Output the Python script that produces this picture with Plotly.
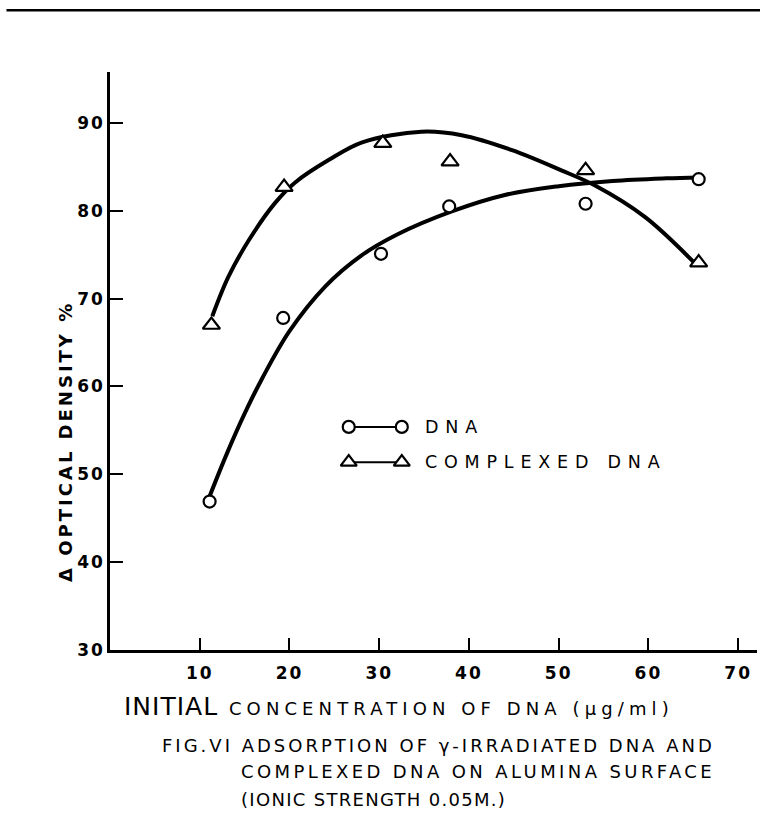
import plotly.graph_objects as go

# ---- data ----
dna_x = [11.1, 19.3, 30.2, 37.8, 53.0, 65.6]
dna_y = [46.9, 67.8, 75.1, 80.5, 80.8, 83.6]
cplx_x = [11.3, 19.4, 30.4, 37.9, 53.0, 65.6]
cplx_y = [67.0, 82.7, 87.7, 85.6, 84.6, 74.1]

# hand-drawn fitted curves
dna_curve_x = [11.1, 13.0, 15.0, 17.0, 20.0, 24.0, 28.0, 32.0, 38.0, 44.0, 50.0, 56.0, 62.0, 65.6]
dna_curve_y = [47.5, 52.3, 56.9, 61.0, 66.3, 71.4, 74.9, 77.3, 79.9, 81.8, 82.8, 83.4, 83.7, 83.8]
cplx_curve_x = [11.4, 13.2, 15.5, 18.4, 20.6, 24.4, 28.1, 34.7, 39.2, 44.8, 50.3, 54.0, 59.6, 65.1]
cplx_curve_y = [68.0, 72.5, 76.7, 80.9, 83.2, 85.8, 87.8, 89.0, 88.6, 86.9, 84.6, 82.9, 79.3, 74.1]

x_ticks = [10, 20, 30, 40, 50, 60, 70]
y_ticks = [30, 40, 50, 60, 70, 80, 90]

series_names = ["DNA", "COMPLEXED DNA"]
y_title = "Δ OPTICAL DENSITY %"
x_title_big = "INITIAL"
x_title_rest = "CONCENTRATION OF DNA (µg/ml)"
caption = ["FIG.VI ADSORPTION OF γ-IRRADIATED DNA AND",
           "COMPLEXED DNA ON ALUMINA SURFACE",
           "(IONIC STRENGTH 0.05M.)"]

FONT = "DejaVu Sans"
INK = "black"


def spaced(s, px):
    return f'<span style="letter-spacing:{px}px">{s}</span>'


fig = go.Figure()

for cx, cy in [(dna_curve_x, dna_curve_y), (cplx_curve_x, cplx_curve_y)]:
    fig.add_trace(go.Scatter(x=cx, y=cy, mode="lines",
                             line=dict(color=INK, width=4, shape="spline", smoothing=1.0),
                             hoverinfo="skip", showlegend=False))
fig.add_trace(go.Scatter(x=dna_x, y=dna_y, mode="markers", name=series_names[0],
                         marker=dict(symbol="circle", size=12, color="white",
                                     line=dict(color=INK, width=2.2)),
                         showlegend=False))
fig.add_trace(go.Scatter(x=cplx_x, y=cplx_y, mode="markers", name=series_names[1],
                         marker=dict(symbol="triangle-up", size=15, color="white",
                                     line=dict(color=INK, width=2.2)),
                         showlegend=False))

# ---- hand-drawn style legend on an overlay axis (0..1 across the plot area) ----
leg_rows = [(0.386, "circle", 12, series_names[0]), (0.325, "triangle-up", 14, series_names[1])]
for yy, sym, sz, label in leg_rows:
    fig.add_trace(go.Scatter(x=[0.369, 0.451], y=[yy, yy], mode="lines+markers",
                             xaxis="x2", yaxis="y2",
                             line=dict(color=INK, width=2),
                             marker=dict(symbol=sym, size=sz, color="white",
                                         line=dict(color=INK, width=2.2)),
                             hoverinfo="skip", showlegend=False))
    fig.add_annotation(xref="paper", yref="paper", x=0.484, y=yy, xanchor="left",
                       yanchor="middle", showarrow=False,
                       text=spaced(label, 6.8),
                       font=dict(family=FONT, size=17.5, color=INK))

# ---- axis title / caption ----
fig.add_annotation(xref="paper", yref="paper", x=-0.068, y=0.360, textangle=-90,
                   showarrow=False, xanchor="center", yanchor="middle",
                   text=spaced(y_title, 3),
                   font=dict(family=FONT, size=18, color=INK, weight="bold"))
fig.add_annotation(xref="paper", yref="paper", x=0.0185, y=-0.098, xanchor="left",
                   yanchor="middle", showarrow=False,
                   text=(f'<span style="font-size:25px;letter-spacing:1px">{x_title_big}</span>'
                         f'<span style="letter-spacing:5.1px"> {x_title_rest}</span>'),
                   font=dict(family=FONT, size=18, color=INK))
cap_pos = [(0.078, -0.166, 3.0), (0.200, -0.211, 3.4), (0.200, -0.258, 1.3)]
for (cx, cy, sp), line in zip(cap_pos, caption):
    fig.add_annotation(xref="paper", yref="paper", x=cx, y=cy, xanchor="left",
                       yanchor="middle", showarrow=False,
                       text=spaced(line, sp),
                       font=dict(family=FONT, size=18, color=INK))

# scan border line at the top of the page
fig.add_shape(type="line", xref="paper", yref="paper", x0=-0.16, x1=1.01,
              y0=1.107, y1=1.107, line=dict(color=INK, width=2.5))

tickfont = dict(family=FONT, size=17, color=INK, weight="bold")
fig.update_layout(
    width=760, height=828,
    margin=dict(l=110, r=3, t=72, b=178),
    paper_bgcolor="white", plot_bgcolor="white",
    showlegend=False,
    xaxis=dict(range=[0, 72.1], tickvals=x_ticks,
               ticktext=[spaced(v, 2) for v in x_ticks],
               ticks="inside", ticklen=12,
               tickwidth=2, tickcolor=INK, showline=True, linewidth=2.5,
               linecolor=INK, showgrid=False, zeroline=False,
               ticklabelstandoff=6, tickfont=tickfont),
    yaxis=dict(range=[30, 95.8], tickvals=y_ticks,
               ticktext=[spaced(v, 2) for v in y_ticks],
               ticks="inside", ticklen=13,
               tickwidth=2, tickcolor=INK, showline=True, linewidth=2.5,
               linecolor=INK, showgrid=False, zeroline=False,
               ticklabelstandoff=-1, tickfont=tickfont),
    xaxis2=dict(range=[0, 1], overlaying="x", anchor="y2", visible=False),
    yaxis2=dict(range=[0, 1], overlaying="y", anchor="x2", visible=False),
)

fig.write_html("out.html")
